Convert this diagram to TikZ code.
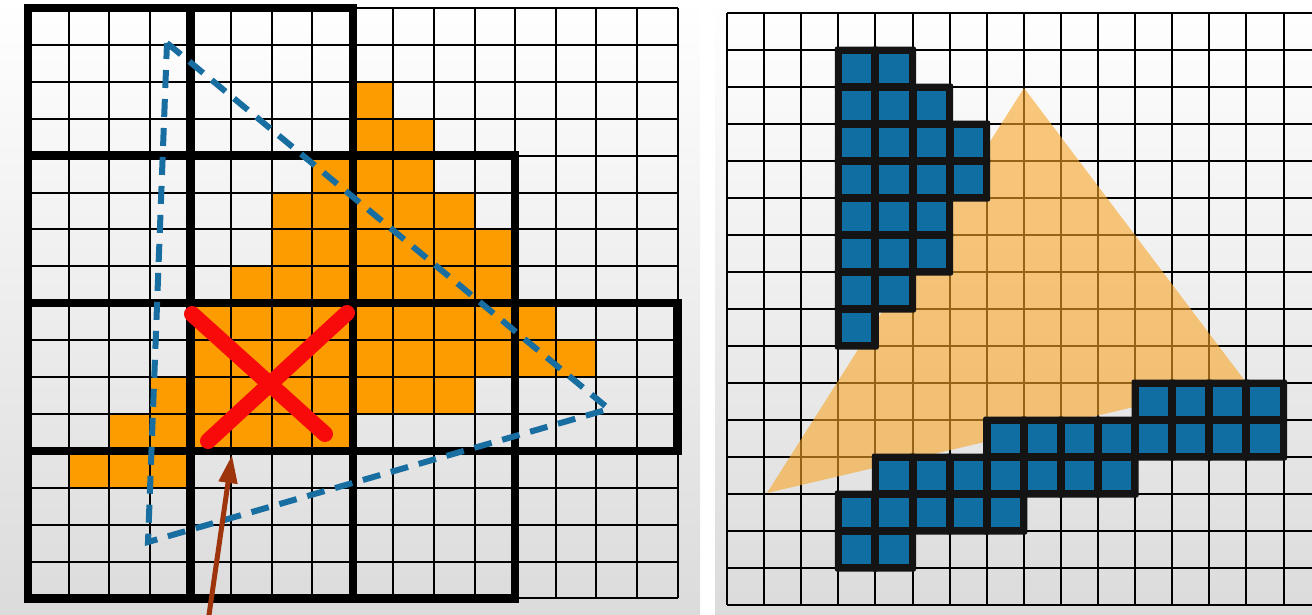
\documentclass[tikz,border=0pt]{standalone}
\usepackage{tikz}
\usetikzlibrary{arrows.meta}

\definecolor{hitorange}{RGB}{252,156,0}
\definecolor{edgeblue}{RGB}{24,110,160}
\definecolor{cellblue}{RGB}{16,110,162}
\definecolor{crossred}{RGB}{248,10,10}
\definecolor{arrowbrown}{RGB}{158,52,12}
\definecolor{triorange}{RGB}{248,166,40}

\begin{document}
\begin{tikzpicture}[
    x=1pt, y=-1pt,
    panel/.style={top color=white, bottom color=black!14},
    fine grid/.style={line width=2pt, black},
    tile/.style={line width=8.5pt, black, line join=miter},
    hit/.style={fill=hitorange},
    coverage/.style={dash pattern=on 18pt off 11pt, line width=6pt, edgeblue},
    reject/.style={line width=16pt, crossred, line cap=round},
    pointer/.style={line width=5pt, arrowbrown, -{Triangle[length=28pt,width=18pt]}},
    raster/.style={fill=triorange, fill opacity=0.6},
    cell rim/.style={fill=black!92},
    cell core/.style={fill=cellblue}
]
\useasboundingbox (0,0) rectangle (1312,614);

\shade[panel] (0,0) rectangle (700,614);
\shade[panel] (715,0) rectangle (1312,614);

\foreach \j/\a/\b in {2/8/8, 3/8/9, 4/7/9, 5/6/10, 6/6/11, 7/5/11, 8/4/12, 9/4/13, 10/3/10, 11/2/7, 12/1/3}
    \fill[hit] ({28+40.6*\a},{8+36.9*\j}) rectangle ({28+40.6*(\b+1)},{8+36.9*(\j+1)});

\foreach \i in {0,...,16} {
    \draw[fine grid] ({28+40.6*\i},8) -- ({28+40.6*\i},598.4);
    \draw[fine grid] (28,{8+36.9*\i}) -- (677.6,{8+36.9*\i});
}

\foreach \r/\n in {0/1, 1/2, 2/3, 3/2}
    \foreach \c in {0,...,\n}
        \draw[tile] ({28+162.4*\c},{8+147.6*\r}) rectangle +(162.4,147.6);

\coordinate (apex) at (167,43);
\coordinate (corner) at (609,409);
\coordinate (foot) at (148,542);
\draw[coverage] (apex) -- (corner) -- (foot) -- cycle;

\draw[reject] (192,314) -- (325,434);
\draw[reject] (347,313) -- (208,441);

\coordinate (tail) at (208,622);
\coordinate (tip) at (232,455);
\draw[pointer] (tail) -- (tip);

\foreach \i in {0,...,15}
    \draw[fine grid] ({727+37.1*\i},13) -- ({727+37.1*\i},605);
\foreach \j in {0,...,16}
    \draw[fine grid] (727,{13+37*\j}) -- (1312,{13+37*\j});

\coordinate (top) at (1024,88);
\coordinate (right) at (1245,381);
\coordinate (left) at (767,493);
\fill[raster] (top) -- (right) -- (left) -- cycle;

\foreach \j/\a/\b in {1/3/4, 2/3/5, 3/3/6, 4/3/6, 5/3/5, 6/3/5, 7/3/4, 8/3/3, 10/11/14, 11/7/14, 12/4/10, 13/3/7, 14/3/4}
    \foreach \i in {\a,...,\b}
        \fill[cell rim, rounded corners=2pt] ({727+37.1*\i-3.5},{13+37*\j-3.5}) rectangle +(44.1,44);
\foreach \j/\a/\b in {1/3/4, 2/3/5, 3/3/6, 4/3/6, 5/3/5, 6/3/5, 7/3/4, 8/3/3, 10/11/14, 11/7/14, 12/4/10, 13/3/7, 14/3/4}
    \foreach \i in {\a,...,\b}
        \fill[cell core] ({727+37.1*\i+4},{13+37*\j+4}) rectangle +(29.1,29);

\end{tikzpicture}
\end{document}
